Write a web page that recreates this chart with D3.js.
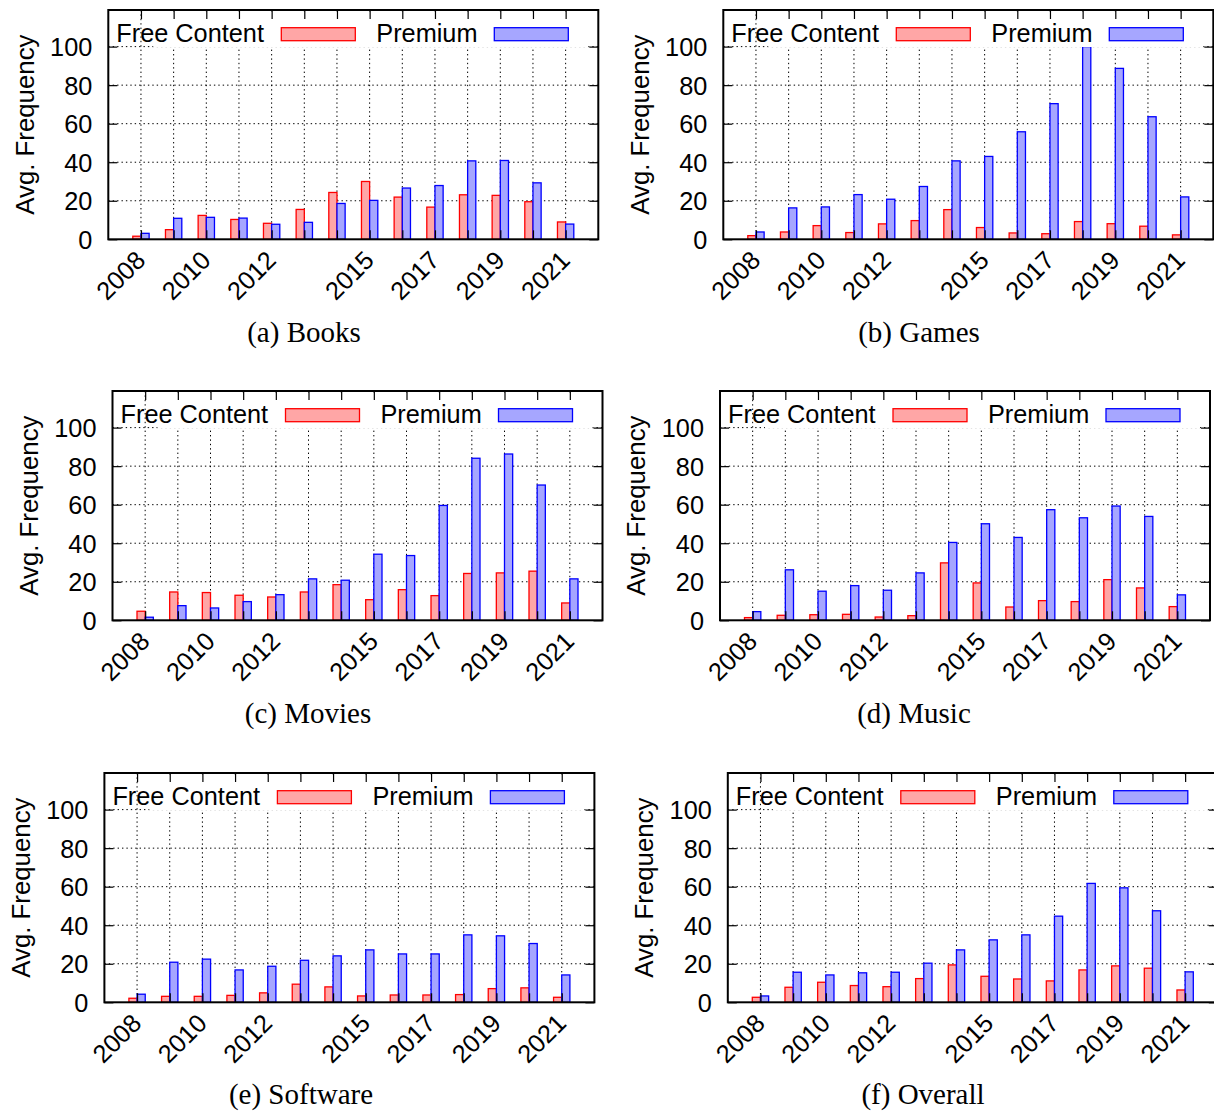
<!DOCTYPE html>
<html>
<head>
<meta charset="utf-8">
<script src="https://cdn.jsdelivr.net/npm/d3@7"></script>
<style>
  body { margin: 0; background: #fff; }
  svg { display: block; }
</style>
</head>
<body>
<svg id="fig" width="1214" height="1112"></svg>
<script>
// Years on the x axis, and the subset that carries a label
const years = [2008, 2009, 2010, 2011, 2012, 2013, 2014, 2015, 2016, 2017, 2018, 2019, 2020, 2021];
const labeledYears = [2008, 2010, 2012, 2015, 2017, 2019, 2021];
const yTicks = [0, 20, 40, 60, 80, 100];
const seriesNames = ["Free Content", "Premium"];

// Average frequency per year, by category
const booksFree       = [1.6, 5.0, 12.4, 10.3, 8.3, 15.5, 24.3, 30.0, 21.9, 16.7, 23.1, 22.8, 19.5, 9.0];
const booksPremium    = [3.1, 10.9, 11.4, 11.0, 7.8, 8.8, 18.6, 20.2, 26.6, 27.9, 40.7, 40.9, 29.3, 7.9];
const gamesFree       = [1.9, 3.8, 7.1, 3.5, 8.0, 9.7, 15.4, 6.1, 3.3, 2.9, 9.2, 8.1, 6.8, 2.3];
const gamesPremium    = [3.8, 16.3, 16.8, 23.2, 20.8, 27.4, 40.7, 43.0, 55.8, 70.4, 100.0, 88.7, 63.6, 22.0];
const moviesFree      = [4.7, 14.7, 14.4, 13.0, 12.1, 14.7, 18.5, 10.7, 15.9, 12.8, 24.3, 24.6, 25.5, 9.0];
const moviesPremium   = [1.6, 7.6, 6.4, 9.7, 13.3, 21.5, 20.8, 34.3, 33.6, 59.6, 84.1, 86.3, 70.2, 21.5];
const musicFree       = [1.4, 2.6, 2.9, 3.1, 1.7, 2.4, 29.8, 19.4, 6.9, 10.2, 9.7, 21.1, 16.8, 7.1];
const musicPremium    = [4.5, 26.2, 15.1, 18.0, 15.6, 24.6, 40.4, 50.1, 43.0, 57.4, 53.2, 59.3, 53.9, 13.2];
const softwareFree    = [2.1, 3.1, 3.1, 3.6, 4.9, 9.4, 8.0, 3.3, 3.8, 3.8, 4.0, 7.1, 7.5, 2.6];
const softwarePremium = [4.2, 20.8, 22.4, 16.8, 18.7, 21.8, 24.1, 27.2, 25.1, 25.1, 35.0, 34.5, 30.5, 14.2];
const overallFree     = [2.6, 7.8, 10.4, 8.7, 8.1, 12.3, 19.4, 13.5, 12.1, 11.1, 16.8, 18.9, 17.7, 6.4];
const overallPremium  = [3.3, 15.6, 14.2, 15.3, 15.6, 20.3, 27.2, 32.4, 35.0, 44.7, 61.7, 59.4, 47.5, 15.8];

const captions = ["(a) Books", "(b) Games", "(c) Movies", "(d) Music", "(e) Software", "(f) Overall"];
const freeSeries = [booksFree, gamesFree, moviesFree, musicFree, softwareFree, overallFree];
const premiumSeries = [booksPremium, gamesPremium, moviesPremium, musicPremium, softwarePremium, overallPremium];

// Placement of each panel's plotting area and its caption
const panelLayout = [
  { left: 108.3, top: 10,  capX: 304, capY: 342 },
  { left: 723.3, top: 10,  capX: 919, capY: 342 },
  { left: 112.5, top: 391, capX: 308, capY: 723 },
  { left: 720.0, top: 391, capX: 914, capY: 723 },
  { left: 104.4, top: 773, capX: 301, capY: 1104 },
  { left: 727.8, top: 773, capX: 923, capY: 1104 }
];

const W = 490, H = 229.3;
const colors = {
  free:    { fill: "#ffa6a6", stroke: "#ff0000" },
  premium: { fill: "#a6a6ff", stroke: "#0000ff" }
};
const sansFont = "'Liberation Sans', Arial, sans-serif";
const serifFont = "'Liberation Serif', 'Times New Roman', serif";
const sansSize = 25.3;

const svg = d3.select("#fig");

const x = d3.scaleLinear().domain([-1, years.length]).range([0, W]);
const y = d3.scaleLinear().domain([0, 119]).range([H, 0]);
const barW = x(0.25) - x(0);

panelLayout.forEach((p, k) => {
  const g = svg.append("g").attr("transform", `translate(${p.left},${p.top})`);

  // dotted grid
  const grid = g.append("g")
    .attr("stroke", "#000").attr("stroke-width", 1).attr("stroke-dasharray", "1.4,3");
  grid.selectAll("line.v").data(years).join("line")
    .attr("x1", (d, i) => x(i)).attr("x2", (d, i) => x(i))
    .attr("y1", 0).attr("y2", H);
  grid.selectAll("line.h").data(yTicks.filter(v => v > 0)).join("line")
    .attr("x1", 0).attr("x2", W)
    .attr("y1", d => y(d)).attr("y2", d => y(d));

  // bars: free content left of the tick, premium right of it
  const free = freeSeries[k], prem = premiumSeries[k];
  g.append("g").selectAll("rect").data(free).join("rect")
    .attr("x", (d, i) => x(i) - barW).attr("width", barW)
    .attr("y", d => y(d)).attr("height", d => y(0) - y(d))
    .attr("fill", colors.free.fill).attr("stroke", colors.free.stroke).attr("stroke-width", 1.3);
  g.append("g").selectAll("rect").data(prem).join("rect")
    .attr("x", (d, i) => x(i)).attr("width", barW)
    .attr("y", d => y(d)).attr("height", d => y(0) - y(d))
    .attr("fill", colors.premium.fill).attr("stroke", colors.premium.stroke).attr("stroke-width", 1.3);

  // opaque legend
  const key = g.append("g");
  key.append("rect").attr("x", 45).attr("y", 2).attr("width", 435).attr("height", 35).attr("fill", "#fff");
  const keyItems = [
    { name: seriesNames[0], tx: 8,   bx: 173, c: colors.free },
    { name: seriesNames[1], tx: 268, bx: 386, c: colors.premium }
  ];
  keyItems.forEach(it => {
    key.append("text").attr("x", it.tx).attr("y", 32)
      .attr("font-family", sansFont).attr("font-size", sansSize).attr("fill", "#000").text(it.name);
    key.append("rect").attr("x", it.bx).attr("y", 17.7).attr("width", 74).attr("height", 13)
      .attr("fill", it.c.fill).attr("stroke", it.c.stroke).attr("stroke-width", 1.3);
  });

  // axes with inward ticks, mirrored on top and right
  const yAxis = g.append("g").call(d3.axisLeft(y).tickValues(yTicks).tickSize(-9).tickPadding(16));
  const xAxis = g.append("g").attr("transform", `translate(0,${H})`)
    .call(d3.axisBottom(x).tickValues(years.map((d, i) => i)).tickSize(-9).tickPadding(0)
      .tickFormat(i => labeledYears.includes(years[i]) ? String(years[i]) : ""));
  g.append("g").call(d3.axisTop(x).tickValues(years.map((d, i) => i)).tickSize(-9).tickFormat(""));
  g.append("g").attr("transform", `translate(${W},0)`)
    .call(d3.axisRight(y).tickValues(yTicks).tickSize(-9).tickFormat(""));

  g.selectAll(".domain").remove();
  g.selectAll(".tick line").attr("stroke", "#000").attr("stroke-width", 1.2);

  yAxis.selectAll("text").attr("font-family", sansFont).attr("font-size", sansSize).attr("fill", "#000")
    .attr("dy", "0.36em");
  xAxis.selectAll("text").attr("font-family", sansFont).attr("font-size", sansSize).attr("fill", "#000")
    .attr("text-anchor", "end").attr("dy", "0.36em")
    .attr("transform", "translate(-1,16) rotate(-45)")
    .attr("y", 0);

  // frame
  g.append("rect").attr("x", 0).attr("y", 0).attr("width", W).attr("height", H)
    .attr("fill", "none").attr("stroke", "#000").attr("stroke-width", 2);

  // axis title
  g.append("text")
    .attr("transform", `translate(-84,${H / 2}) rotate(-90)`)
    .attr("text-anchor", "middle").attr("dy", "0.36em")
    .attr("font-family", sansFont).attr("font-size", sansSize + 0.5).attr("fill", "#000")
    .text("Avg. Frequency");

  // caption
  svg.append("text").attr("x", p.capX).attr("y", p.capY).attr("text-anchor", "middle")
    .attr("font-family", serifFont).attr("font-size", 29).attr("fill", "#000")
    .text(captions[k]);
});
</script>
</body>
</html>
